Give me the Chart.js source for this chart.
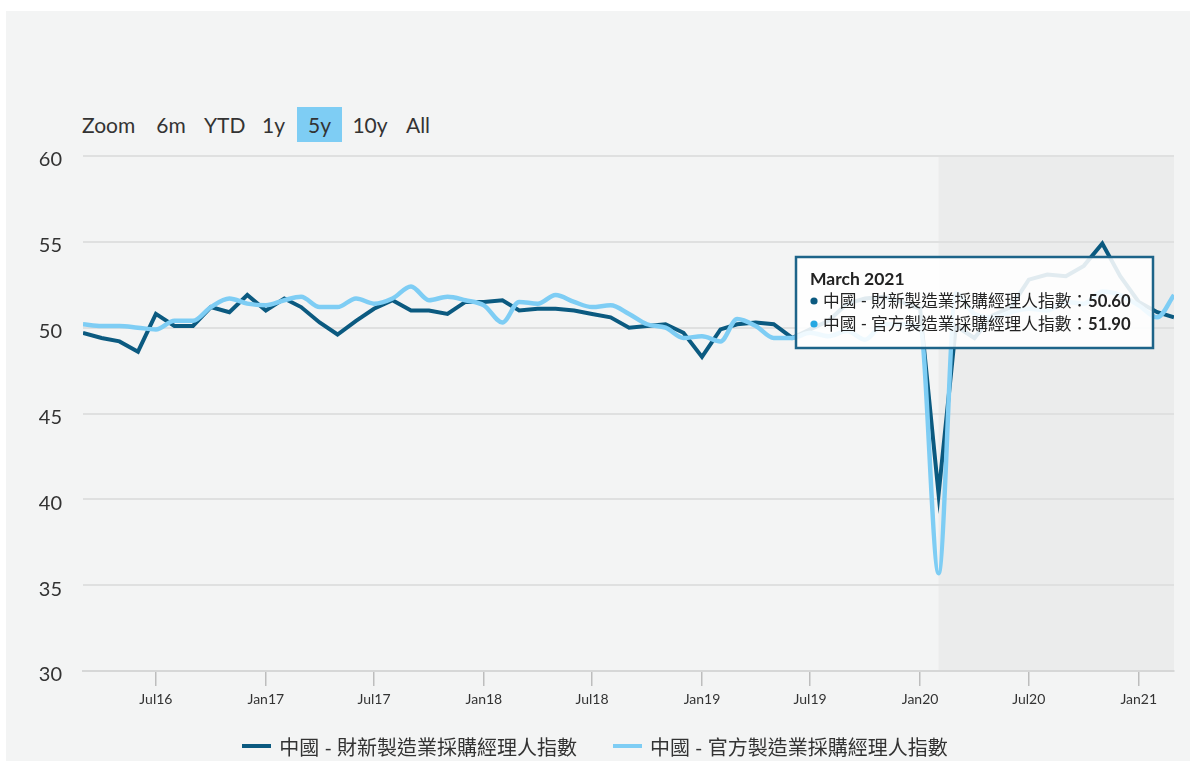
<!DOCTYPE html>
<html lang="zh-Hant">
<head>
<meta charset="utf-8">
<title>中國製造業採購經理人指數</title>
<script src="https://cdn.jsdelivr.net/npm/chart.js@4/dist/chart.umd.min.js"></script>
<style>
  html, body { margin: 0; padding: 0; background: #ffffff; }
  body { width: 1190px; height: 761px; position: relative; overflow: hidden;
         font-family: Lato, "Noto Sans CJK TC", sans-serif; color: #333333; }
  #card { position: absolute; left: 6px; top: 11px; width: 1184px; height: 750px; background: #f3f4f4; }
  #chart { position: absolute; left: 0; top: 0; }
  .rs { position: absolute; font-size: 21px; line-height: 35px; height: 35px; top: 107px; text-align: center; color: #333333; }
  .rs.active { background: #7ecdf4; }
  #legend { position: absolute; left: 0; width: 1190px; top: 733px; height: 26px;
            display: flex; justify-content: center; align-items: center; gap: 36px; }
  .lg { display: flex; align-items: center; font-size: 20px; color: #333333; white-space: nowrap; }
  .lg i { display: inline-block; width: 29px; height: 4px; margin-right: 8px; }
</style>
</head>
<body>
<div id="card"></div>
<div id="selector"></div>
<canvas id="chart" width="1190" height="761"></canvas>
<div id="legend"></div>
<script>
// Monthly readings, March 2016 – March 2021
const months = [
  '2016-03','2016-04','2016-05','2016-06','2016-07','2016-08','2016-09','2016-10','2016-11','2016-12',
  '2017-01','2017-02','2017-03','2017-04','2017-05','2017-06','2017-07','2017-08','2017-09','2017-10','2017-11','2017-12',
  '2018-01','2018-02','2018-03','2018-04','2018-05','2018-06','2018-07','2018-08','2018-09','2018-10','2018-11','2018-12',
  '2019-01','2019-02','2019-03','2019-04','2019-05','2019-06','2019-07','2019-08','2019-09','2019-10','2019-11','2019-12',
  '2020-01','2020-02','2020-03','2020-04','2020-05','2020-06','2020-07','2020-08','2020-09','2020-10','2020-11','2020-12',
  '2021-01','2021-02','2021-03'
];

// 財新製造業 PMI
const caixinPMI = [
  49.7, 49.4, 49.2, 48.6, 50.8, 50.1, 50.1, 51.2, 50.9, 51.9,
  51.0, 51.7, 51.2, 50.3, 49.6, 50.4, 51.1, 51.6, 51.0, 51.0, 50.8, 51.5,
  51.5, 51.6, 51.0, 51.1, 51.1, 51.0, 50.8, 50.6, 50.0, 50.1, 50.2, 49.7,
  48.3, 49.9, 50.2, 50.3, 50.2, 49.4, 49.9, 50.4, 51.4, 51.7, 51.8, 51.5,
  51.1, 40.3, 50.1, 49.4, 50.7, 51.2, 52.8, 53.1, 53.0, 53.6, 54.9, 53.0,
  51.5, 50.9, 50.6
];

// 官方製造業 PMI
const officialPMI = [
  50.2, 50.1, 50.1, 50.0, 49.9, 50.4, 50.4, 51.2, 51.7, 51.4,
  51.3, 51.6, 51.8, 51.2, 51.2, 51.7, 51.4, 51.7, 52.4, 51.6, 51.8, 51.6,
  51.3, 50.3, 51.5, 51.4, 51.9, 51.5, 51.2, 51.3, 50.8, 50.2, 50.0, 49.4,
  49.5, 49.2, 50.5, 50.1, 49.4, 49.4, 49.7, 49.5, 49.8, 49.3, 50.2, 50.2,
  50.0, 35.7, 52.0, 50.8, 50.6, 50.9, 51.1, 51.0, 51.5, 51.4, 52.1, 51.9,
  51.3, 50.6, 51.9
];

const seriesNames = ['中國 - 財新製造業採購經理人指數', '中國 - 官方製造業採購經理人指數'];
const xTickMonths = ['2016-07','2017-01','2017-07','2018-01','2018-07','2019-01','2019-07','2020-01','2020-07','2021-01'];
const yTicks = [30, 35, 40, 45, 50, 55, 60];
const rangeButtons = ['Zoom', '6m', 'YTD', '1y', '5y', '10y', 'All'];
const activeRange = '5y';
const shadedFrom = '2020-02';

const monthShort = ['Jan','Feb','Mar','Apr','May','Jun','Jul','Aug','Sep','Oct','Nov','Dec'];
const monthLong = ['January','February','March','April','May','June','July','August','September','October','November','December'];

function toTime(m) {
  const [y, mo] = m.split('-').map(Number);
  return Date.UTC(y, mo - 1, 1);
}
function shortLabel(t) {
  const d = new Date(t);
  return monthShort[d.getUTCMonth()] + String(d.getUTCFullYear()).slice(2);
}
function longLabel(t) {
  const d = new Date(t);
  return monthLong[d.getUTCMonth()] + ' ' + d.getUTCFullYear();
}

const FONT = 'Lato, "Noto Sans CJK TC", sans-serif';
const DARK = '#0b5a80';
const LIGHT = '#7ecdf4';
const DOTS = ['#0b5a80', '#26a8e2'];

// Range selector row
(function buildSelector() {
  const host = document.getElementById('selector');
  const lefts = [82, 155, 204, 262, 297, 351, 405];
  const widths = [62, 32, 40, 22, 45, 38, 26];
  rangeButtons.forEach((txt, i) => {
    const s = document.createElement('span');
    s.className = 'rs' + (txt === activeRange ? ' active' : '');
    s.textContent = txt;
    s.style.left = lefts[i] + 'px';
    s.style.width = widths[i] + 'px';
    if (i === 0) s.style.textAlign = 'left';
    host.appendChild(s);
  });
})();

// Shaded period behind the grid
const bandPlugin = {
  id: 'band',
  beforeDraw(chart) {
    const { ctx, chartArea, scales } = chart;
    const x0 = scales.x.getPixelForValue(toTime(shadedFrom));
    ctx.save();
    ctx.fillStyle = '#ebecec';
    ctx.fillRect(x0, chartArea.top, chartArea.right - x0, chartArea.bottom - chartArea.top);
    ctx.restore();
  }
};

// Fixed tooltip for the latest month
const tipPlugin = {
  id: 'latestTip',
  afterDraw(chart) {
    const { ctx, scales, chartArea } = chart;
    const idx = months.length - 1;
    const t = toTime(months[idx]);
    const px = scales.x.getPixelForValue(t);
    const title = longLabel(t);
    const rows = chart.data.datasets.map((ds, i) => ({
      label: ds.label + '：',
      value: ds.data[idx].y.toFixed(2),
      color: DOTS[i]
    }));
    ctx.save();
    const regular = '16.7px ' + FONT;
    const bold = 'bold 16.7px ' + FONT;
    let maxW = 0;
    rows.forEach(r => {
      ctx.font = regular; const a = ctx.measureText(r.label).width;
      ctx.font = bold; const b = ctx.measureText(r.value).width;
      r.lw = a; maxW = Math.max(maxW, a + b);
    });
    const w = Math.round(27 + maxW + 22);
    const h = 91;
    const right = px - 21;
    const left = right - w;
    const top = chartArea.top + 101;

    ctx.fillStyle = 'rgba(255,255,255,0.88)';
    ctx.fillRect(left, top, w, h);
    ctx.strokeStyle = '#1d6489';
    ctx.lineWidth = 2.5;
    ctx.strokeRect(left, top, w, h);

    ctx.fillStyle = '#222222';
    ctx.textBaseline = 'alphabetic';
    ctx.textAlign = 'left';
    ctx.font = 'bold 17.5px ' + FONT;
    ctx.fillText(title, left + 14, top + 28);

    rows.forEach((r, i) => {
      const cy = top + 44 + i * 23;
      ctx.fillStyle = r.color;
      ctx.beginPath();
      ctx.arc(left + 18, cy, 3.6, 0, Math.PI * 2);
      ctx.fill();
      ctx.fillStyle = '#222222';
      ctx.textBaseline = 'middle';
      ctx.font = regular;
      ctx.fillText(r.label, left + 27, cy + 1);
      ctx.font = bold;
      ctx.fillText(r.value, left + 27 + r.lw, cy + 1);
    });
    ctx.restore();
  }
};

const points = vals => months.map((m, i) => ({ x: toTime(m), y: vals[i] }));

Chart.defaults.font.family = FONT;
Chart.defaults.color = '#333333';

const chart = new Chart(document.getElementById('chart'), {
  type: 'line',
  data: {
    datasets: [
      {
        label: seriesNames[0],
        data: points(caixinPMI),
        borderColor: DARK,
        backgroundColor: DARK,
        borderWidth: 4,
        pointRadius: 0,
        tension: 0,
        order: 1
      },
      {
        label: seriesNames[1],
        data: points(officialPMI),
        borderColor: LIGHT,
        backgroundColor: LIGHT,
        borderWidth: 4.5,
        pointRadius: 0,
        cubicInterpolationMode: 'monotone',
        order: 0
      }
    ]
  },
  options: {
    responsive: false,
    animation: false,
    events: [],
    layout: { padding: { top: 156, right: 16, bottom: 30, left: 0 } },
    scales: {
      x: {
        type: 'linear',
        min: toTime(months[0]),
        max: toTime(months[months.length - 1]),
        afterBuildTicks: s => { s.ticks = xTickMonths.map(m => ({ value: toTime(m) })); },
        afterFit: s => { s.height = 60; },
        ticks: {
          autoSkip: false,
          maxRotation: 0,
          padding: 5,
          color: '#333333',
          font: { size: 14 },
          callback: v => shortLabel(v)
        },
        grid: { drawOnChartArea: false, drawTicks: true, tickLength: 15, color: '#bdbdbd', lineWidth: 1.5 },
        border: { display: true, color: '#d6d7d7', width: 2 }
      },
      y: {
        min: 30,
        max: 60,
        afterBuildTicks: s => { s.ticks = yTicks.map(v => ({ value: v })); },
        afterFit: s => { s.width = 83; },
        ticks: { padding: 21, labelOffset: 4, color: '#333333', font: { size: 20 } },
        grid: { color: '#dfe0e0', lineWidth: 2, drawTicks: false },
        border: { display: false }
      }
    },
    plugins: {
      legend: { display: false },
      tooltip: { enabled: false }
    }
  },
  plugins: [bandPlugin, tipPlugin]
});

// Legend under the axis, built from the datasets
(function buildLegend() {
  const host = document.getElementById('legend');
  chart.data.datasets.forEach(ds => {
    const item = document.createElement('div');
    item.className = 'lg';
    const sw = document.createElement('i');
    sw.style.background = ds.borderColor;
    item.appendChild(sw);
    item.appendChild(document.createTextNode(ds.label));
    host.appendChild(item);
  });
})();
</script>
</body>
</html>
